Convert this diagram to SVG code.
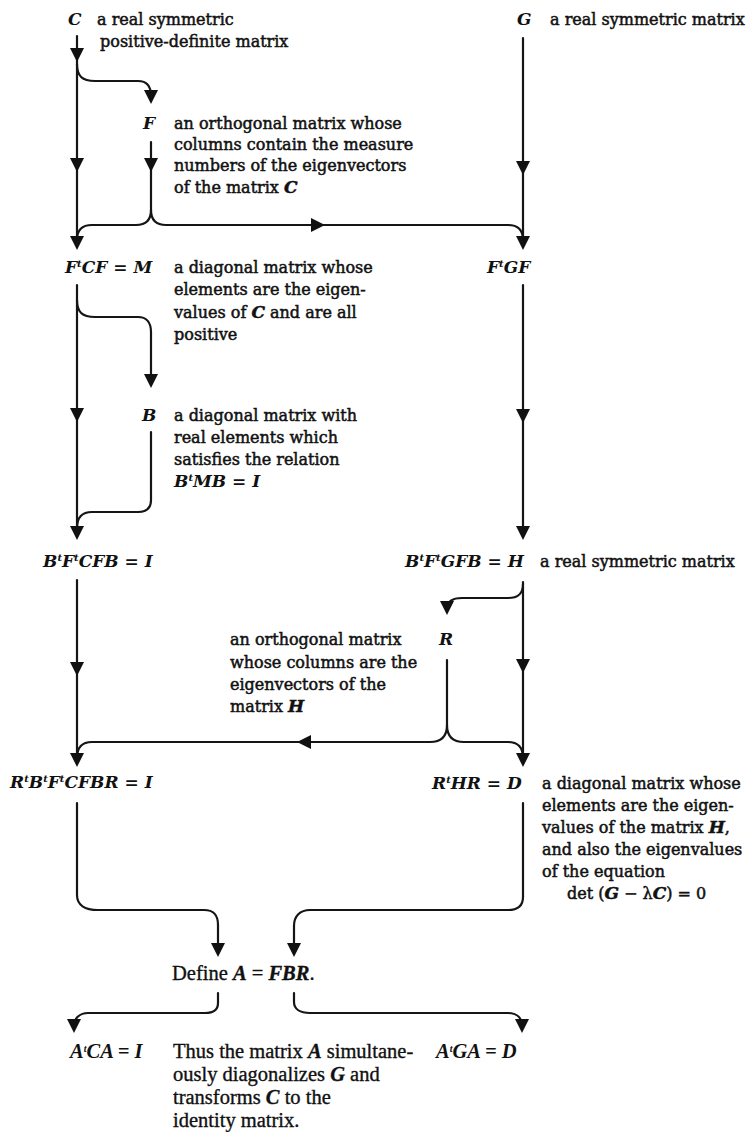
<svg xmlns="http://www.w3.org/2000/svg" xmlns:xlink="http://www.w3.org/1999/xlink" width="749" height="1132" viewBox="0 0 749 1132">
<style>
.t{font-family:"DejaVu Serif",serif;font-size:16px;fill:#111;stroke:#111;stroke-width:0.5}
.m{font-family:"DejaVu Serif",serif;font-size:17px;font-weight:bold;font-style:italic;fill:#111}
.s{font-size:10px}
.b{font-family:"Liberation Serif",serif;font-size:20.5px;fill:#111;stroke:#111;stroke-width:0.35}
.bm{font-family:"Liberation Serif",serif;font-size:20.5px;font-weight:bold;font-style:italic;fill:#111}
.c{fill:none;stroke:#151515;stroke-width:2.2;stroke-linecap:round}
.ah{fill:#111}
</style>
<defs>
<path id="ad" d="M-7,-14 L7,-14 L0,0 Z"/>
<path id="ar" d="M-14,-7 L-14,7 L0,0 Z"/>
<path id="al" d="M14,-7 L14,7 L0,0 Z"/>
</defs>
<rect width="749" height="1132" fill="#ffffff"/>

<g id="connectors">
<path class="c" d="M77,36 V244"/>
<path class="c" d="M77,64 C77,76 82,81 95,81 H138 C146,81 151,85 151,96"/>
<path class="c" d="M151,142 V210 C151,220 146,225 136,225 H92 C82,225 77,230 77,240"/>
<path class="c" d="M151,210 C151,220 156,225 166,225 H508 C518,225 523,230 523,240"/>
<path class="c" d="M523,38 V244"/>
<path class="c" d="M77,285 V534"/>
<path class="c" d="M77,300 C77,312 82,317 95,317 H138 C146,317 151,322 151,332 V382"/>
<path class="c" d="M151,432 V500 C151,508 146,512 138,512 H92 C82,512 77,517 77,528"/>
<path class="c" d="M523,285 V534"/>
<path class="c" d="M77,580 V761"/>
<path class="c" d="M523,582 V761"/>
<path class="c" d="M523,584 C523,594 518,598 508,598 H462 C452,598 447,602 447,609"/>
<path class="c" d="M447,660 V725 C447,736 442,742 430,742 H92 C82,742 77,748 77,758"/>
<path class="c" d="M447,725 C447,736 452,742 464,742 H508 C518,742 523,748 523,758"/>
<path class="c" d="M77,803 V895 C77,905 85,910 98,910 H204 C214,910 218,915 218,925 V951"/>
<path class="c" d="M523,803 V897 C523,906 518,910 508,910 H310 C300,910 294,916 294,926 V951"/>
<path class="c" d="M218,993 V1003 C218,1010 213,1013 205,1013 H88 C80,1013 74,1018 74,1026 V1028"/>
<path class="c" d="M294,993 V1002 C294,1009 300,1013 310,1013 H508 C517,1013 522,1018 522,1026 V1028"/>
<g class="ah">
<use xlink:href="#ad" x="77" y="62"/>
<use xlink:href="#ad" x="151" y="104"/>
<use xlink:href="#ad" x="77" y="172"/>
<use xlink:href="#ad" x="151" y="172"/>
<use xlink:href="#ad" x="77" y="250"/>
<use xlink:href="#ar" x="325" y="225"/>
<use xlink:href="#ad" x="523" y="175"/>
<use xlink:href="#ad" x="523" y="250"/>
<use xlink:href="#ad" x="151" y="388"/>
<use xlink:href="#ad" x="77" y="422"/>
<use xlink:href="#ad" x="77" y="540"/>
<use xlink:href="#ad" x="523" y="423"/>
<use xlink:href="#ad" x="523" y="540"/>
<use xlink:href="#ad" x="447" y="615"/>
<use xlink:href="#ad" x="77" y="676"/>
<use xlink:href="#ad" x="523" y="673"/>
<use xlink:href="#al" x="297" y="742"/>
<use xlink:href="#ad" x="77" y="767"/>
<use xlink:href="#ad" x="523" y="767"/>
<use xlink:href="#ad" x="218" y="957"/>
<use xlink:href="#ad" x="294" y="957"/>
<use xlink:href="#ad" x="74" y="1033"/>
<use xlink:href="#ad" x="522" y="1033"/>
</g>
</g>

<g id="node-C">
<text class="m" x="68" y="25">C</text>
<text class="t" x="97" y="25">a real symmetric</text>
<text class="t" x="100" y="47">positive-definite matrix</text>
</g>
<g id="node-G">
<text class="m" x="517" y="25">G</text>
<text class="t" x="550" y="25">a real symmetric matrix</text>
</g>
<g id="node-F">
<text class="m" x="143" y="129">F</text>
<text class="t" x="174" y="129">an orthogonal matrix whose</text>
<text class="t" x="174" y="150">columns contain the measure</text>
<text class="t" x="174" y="171">numbers of the eigenvectors</text>
<text class="t" x="174" y="193">of the matrix <tspan class="m">C</tspan></text>
</g>
<g id="node-FtCF">
<text class="m" x="65" y="273">F<tspan class="s" dy="-6">t</tspan><tspan dy="6">CF = M</tspan></text>
<text class="t" x="174" y="273">a diagonal matrix whose</text>
<text class="t" x="174" y="295">elements are the eigen-</text>
<text class="t" x="174" y="318">values of <tspan class="m">C</tspan> and are all</text>
<text class="t" x="174" y="340">positive</text>
</g>
<g id="node-FtGF">
<text class="m" x="487" y="273">F<tspan class="s" dy="-6">t</tspan><tspan dy="6">GF</tspan></text>
</g>
<g id="node-B">
<text class="m" x="142" y="421">B</text>
<text class="t" x="174" y="421">a diagonal matrix with</text>
<text class="t" x="174" y="443">real elements which</text>
<text class="t" x="174" y="465">satisfies the relation</text>
<text class="m" x="174" y="487">B<tspan class="s" dy="-6">t</tspan><tspan dy="6">MB = I</tspan></text>
</g>
<g id="node-BtFtCFB">
<text class="m" x="43" y="567">B<tspan class="s" dy="-6">t</tspan><tspan dy="6">F</tspan><tspan class="s" dy="-6">t</tspan><tspan dy="6">CFB = I</tspan></text>
</g>
<g id="node-BtFtGFB">
<text class="m" x="405" y="567">B<tspan class="s" dy="-6">t</tspan><tspan dy="6">F</tspan><tspan class="s" dy="-6">t</tspan><tspan dy="6">GFB = H</tspan></text>
<text class="t" x="540" y="567">a real symmetric matrix</text>
</g>
<g id="node-R">
<text class="m" x="439" y="645">R</text>
<text class="t" x="230" y="645">an orthogonal matrix</text>
<text class="t" x="230" y="668">whose columns are the</text>
<text class="t" x="230" y="690">eigenvectors of the</text>
<text class="t" x="230" y="712">matrix <tspan class="m">H</tspan></text>
</g>
<g id="node-RtBtFtCFBR">
<text class="m" x="10" y="788">R<tspan class="s" dy="-6">t</tspan><tspan dy="6">B</tspan><tspan class="s" dy="-6">t</tspan><tspan dy="6">F</tspan><tspan class="s" dy="-6">t</tspan><tspan dy="6">CFBR = I</tspan></text>
</g>
<g id="node-RtHR">
<text class="m" x="432" y="789">R<tspan class="s" dy="-6">t</tspan><tspan dy="6">HR = D</tspan></text>
<text class="t" x="542" y="789">a diagonal matrix whose</text>
<text class="t" x="542" y="811">elements are the eigen-</text>
<text class="t" x="542" y="833">values of the matrix <tspan class="m">H</tspan>,</text>
<text class="t" x="542" y="855">and also the eigenvalues</text>
<text class="t" x="542" y="877">of the equation</text>
<text class="t" x="567" y="899">det (<tspan class="m">G</tspan> − λ<tspan class="m">C</tspan>) = 0</text>
</g>
<g id="node-define">
<text class="b" x="172" y="980">Define <tspan class="bm">A</tspan> = <tspan class="bm">FBR</tspan>.</text>
</g>
<g id="node-AtCA">
<text class="bm" x="70" y="1058">A<tspan class="s" dy="-6">t</tspan><tspan dy="6">CA = I</tspan></text>
<text class="b" x="173" y="1058">Thus the matrix <tspan class="bm">A</tspan> simultane-</text>
<text class="b" x="173" y="1081">ously diagonalizes <tspan class="bm">G</tspan> and</text>
<text class="b" x="173" y="1104">transforms <tspan class="bm">C</tspan> to the</text>
<text class="b" x="173" y="1127">identity matrix.</text>
</g>
<g id="node-AtGA">
<text class="bm" x="436" y="1058">A<tspan class="s" dy="-6">t</tspan><tspan dy="6">GA = D</tspan></text>
</g>
</svg>
